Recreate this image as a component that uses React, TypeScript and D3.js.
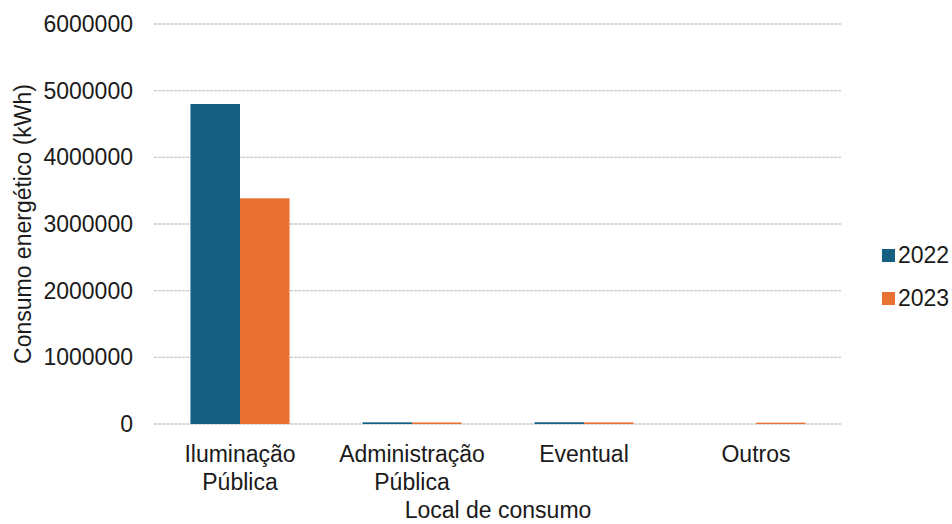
import React from "react";
import * as d3 from "d3";

const categories: string[][] = [["Iluminação", "Pública"], ["Administração", "Pública"], ["Eventual"], ["Outros"]];
const seriesNames = ["2022", "2023"];
const values2022 = [4800000, 25000, 26000, 0];
const values2023 = [3385000, 23000, 24000, 20000];
const yTicks = [0, 1000000, 2000000, 3000000, 4000000, 5000000, 6000000];
const colors = ["#156082", "#E97132"];

const W = 952, H = 524;
const left = 154, right = 842, top = 24, bottom = 424;
const FONT = "'Liberation Sans', Arial, sans-serif";
const FS = 23;

export default function App() {
  const x0 = d3.scaleBand<number>().domain(categories.map((_, i) => i)).range([left, right]).paddingInner(0.424).paddingOuter(0.212);
  const x1 = d3.scaleBand<string>().domain(seriesNames).range([0, x0.bandwidth()]);
  const y = d3.scaleLinear().domain([0, 6000000]).range([bottom, top]);
  const series = [values2022, values2023];

  return (
    <svg width={W} height={H} style={{ position: "fixed", left: 0, top: 0, background: "#fff" }} fontFamily={FONT}>
      <rect x={0} y={0} width={W} height={H} fill="#fff" />
      {yTicks.map((t) => (
        <g key={t}>
          <line x1={left} x2={right} y1={y(t)} y2={y(t)} stroke="#c9c9c9" strokeWidth={1.3} strokeDasharray="3 1" />
          <text x={133} y={y(t)} dy="0.35em" textAnchor="end" fontSize={FS} fill="#1a1a1a">{t}</text>
        </g>
      ))}
      {series.map((vals, s) =>
        vals.map((v, i) => (
          v > 0 ? (
            <rect key={`${s}-${i}`} x={(x0(i) as number) + (x1(seriesNames[s]) as number)} y={y(v)} width={x1.bandwidth()} height={Math.max(y(0) - y(v), 0)} fill={colors[s]} />
          ) : null
        ))
      )}
      {categories.map((lines, i) => (
        <text key={i} x={(x0(i) as number) + x0.bandwidth() / 2} y={462} textAnchor="middle" fontSize={FS} fill="#1a1a1a">
          {lines.map((l, j) => (
            <tspan key={j} x={(x0(i) as number) + x0.bandwidth() / 2} dy={j === 0 ? 0 : 28}>{l}</tspan>
          ))}
        </text>
      ))}
      <text x={(left + right) / 2} y={518} textAnchor="middle" fontSize={FS} fill="#1a1a1a">Local de consumo</text>
      <text transform={`translate(31, ${(top + bottom) / 2}) rotate(-90)`} textAnchor="middle" fontSize={FS} fill="#1a1a1a">Consumo energético (kWh)</text>
      {seriesNames.map((n, s) => (
        <g key={n}>
          <rect x={882} y={249 + s * 43} width={13} height={13} fill={colors[s]} />
          <text x={898} y={263 + s * 43} fontSize={FS} fill="#1a1a1a">{n}</text>
        </g>
      ))}
    </svg>
  );
}
